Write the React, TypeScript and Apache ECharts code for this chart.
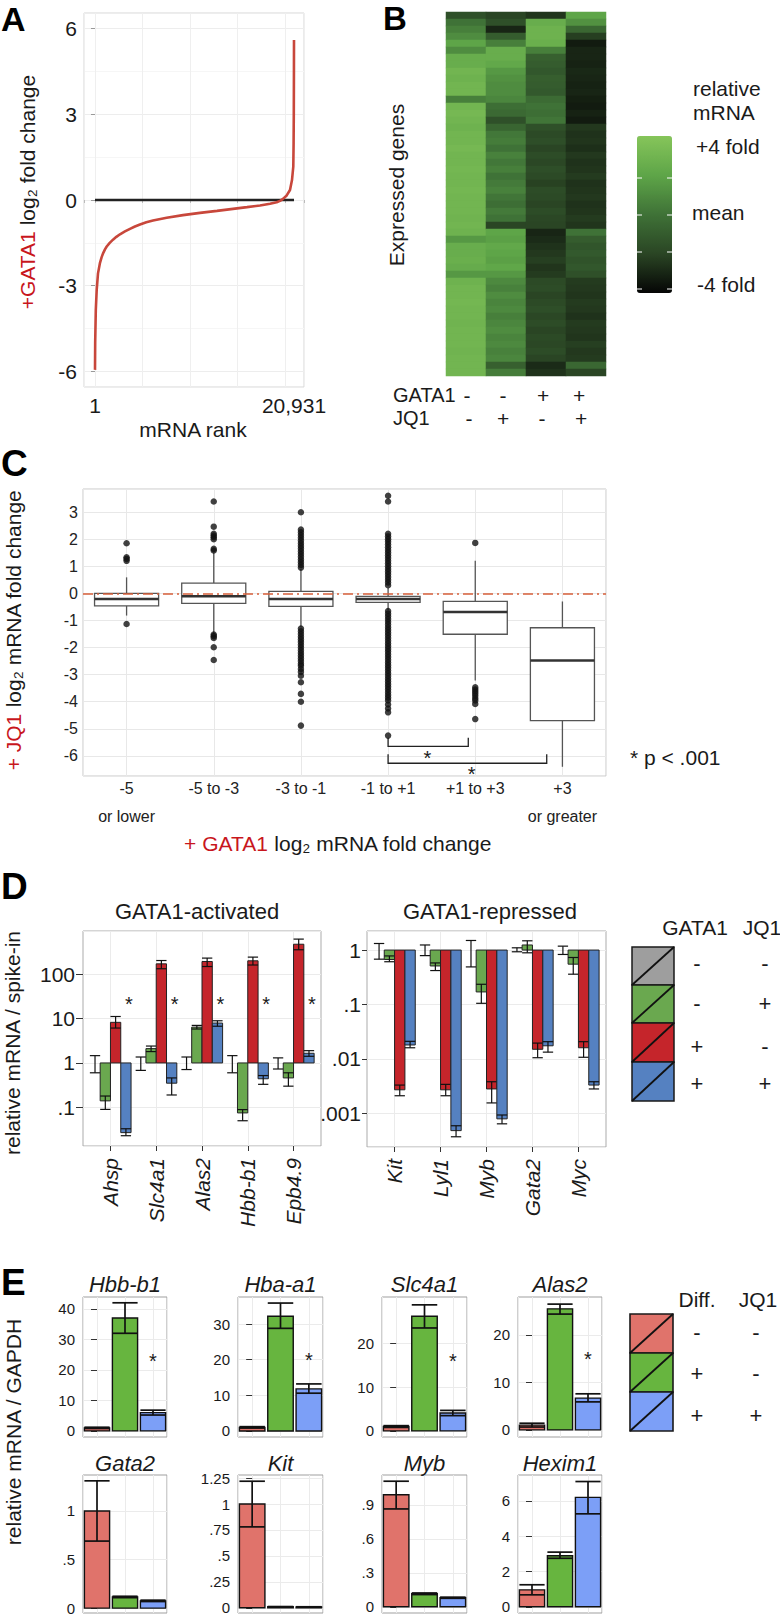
import React, { useEffect, useRef } from 'react';
import * as echarts from 'echarts';

const FONT = '"Liberation Sans", Arial, Helvetica, sans-serif';
const INK = '#1a1a1a';
const RED_TEXT = '#c8161d';

/* ---------------- Panel A ---------------- */
const aRank = [1, 20, 85, 180, 317, 527, 700, 874, 1050, 1232, 1550, 1894, 2250, 2630, 3150, 3682, 4200, 4734, 5400, 6101, 7542, 9256, 11044, 12832, 14515, 15987, 17354, 18406, 19111, 19458, 19774, 20163, 20510, 20720, 20857, 20890, 20910, 20925, 20931];
const aFold = [-5.95, -5.0, -3.85, -3.15, -2.57, -2.2, -2.0, -1.85, -1.73, -1.63, -1.5, -1.39, -1.29, -1.2, -1.1, -1.01, -0.93, -0.86, -0.78, -0.72, -0.62, -0.53, -0.45, -0.38, -0.31, -0.25, -0.19, -0.13, -0.08, -0.03, 0.04, 0.16, 0.35, 0.7, 1.17, 2.0, 3.0, 4.6, 5.6];
const aRankLabels = [1, 20931];

/* ---------------- Panel B ---------------- */
const bGata1Signs = ['-', '-', '+', '+'];
const bJq1Signs = ['-', '+', '-', '+'];
const bCol1 = [-1.5, 0, 0.5, 1, 2, 1, 2.5, 2.5, 3, 2.8, 3, 3, 0.5, 3, 3.2, 3, 2.8, 3, 3, 3.2, 3, 3, 3.1, 3, 3, 3.1, 3, 3, 3, 2.9, 3, 2.8, 1.5, 2.5, 2.5, 2.6, 2.4, 1.5, 2.8, 3, 3, 3.1, 3, 3, 2.9, 3, 3, 3, 2.9, 3, 3, 3];
const bCol2 = [-2, -1.5, -3, -1, 0.5, 2.5, 2.5, 2.2, 1.5, 1.2, 1, 1, 0.8, -0.2, -0.4, -1.5, -0.6, 0.2, 0.4, 0, 0.6, 0.2, 0.5, 0, 0.3, 0.6, 0.1, -0.2, 0.3, 0, -2, 2, 1.8, 2.2, 2, 1.8, 2.1, 1.5, 0.9, 0.6, 1, 0.7, 0.9, 0.5, 0.8, 1, 0.7, 0.9, 0.6, 0.8, -0.8, 0.4];
const bCol3 = [-2.5, 2.5, 2.8, 2.8, 2.6, 0.5, -0.8, -1, -1.2, -0.9, -1, -1.1, -0.3, 0, -0.2, 0.1, -1.5, -1.8, -1.6, -2, -1.7, -1.9, -1.6, -1.8, -2.1, -1.7, -1.8, -2, -1.7, -1.9, -2, -3, -2.8, -2.6, -2.4, -2.2, -2.5, -2.3, -1.8, -1.7, -2, -1.8, -1.6, -1.9, -1.7, -2, -1.8, -1.9, -1.7, -2, -2.8, -2.6];
const bCol4 = [2, 1.2, -0.5, -2.2, -3.3, -3, -3, -3.1, -2.9, -3, -3.1, -3, -3.2, -3.3, -3.1, -3.3, -2.4, -2.6, -2.5, -2.7, -2.4, -2.6, -2.5, -2.3, -2.6, -2.5, -2.4, -2.6, -2.5, -2.3, -2.5, 0, -1, -1.3, -1.1, -1.4, -1.2, -1.5, -2.3, -2.4, -2.5, -2.3, -2.4, -2.6, -2.3, -2.4, -2.5, -2.2, -2.4, -2.3, -0.5, -2];

/* ---------------- Panel C ---------------- */
const cCats = ['-5\n\nor lower', '-5 to -3', '-3 to -1', '-1 to +1', '+1 to +3', '+3\n\nor greater'];
const cLow = [-0.82, -1.5, -1.25, -0.62, -3.22, -6.4];
const cQ1 = [-0.46, -0.37, -0.48, -0.33, -1.51, -4.7];
const cMed = [-0.21, -0.11, -0.21, -0.21, -0.69, -2.48];
const cQ3 = [0.0, 0.38, 0.07, -0.11, -0.3, -1.27];
const cHigh = [0.59, 1.51, 0.9, 0.2, 1.2, -0.3];
const cOut0 = [1.85, 1.33, 1.27, 1.2, -1.13];
const cOut1 = [3.39, 2.46, 2.2, 2.13, 2.07, 2.0, 1.64, 1.58, -1.52, -1.58, -1.65, -1.99, -2.46];
const cOut2 = [2.99, 2.35, 2.25, 2.15, 2.05, 1.95, 1.85, 1.75, 1.65, 1.55, 1.45, 1.35, 1.25, 1.15, 1.05, 0.95, -1.3, -1.4, -1.5, -1.6, -1.7, -1.8, -1.9, -2.0, -2.1, -2.2, -2.3, -2.4, -2.5, -2.6, -2.67, -2.79, -2.9, -3.04, -3.28, -3.71, -4.0, -4.88];
const cOut3 = [3.6, 3.39, 2.2, 2.1, 2.0, 1.9, 1.8, 1.7, 1.6, 1.5, 1.4, 1.3, 1.2, 1.1, 1.0, 0.9, 0.8, 0.7, 0.6, 0.5, 0.4, 0.3, -0.65, -0.75, -0.85, -0.95, -1.05, -1.15, -1.25, -1.35, -1.45, -1.55, -1.65, -1.75, -1.85, -1.95, -2.05, -2.15, -2.25, -2.35, -2.45, -2.55, -2.65, -2.75, -2.85, -2.95, -3.05, -3.15, -3.25, -3.35, -3.45, -3.55, -3.65, -3.75, -3.85, -3.95, -4.1, -4.25, -4.39, -5.25];
const cOut4 = [1.86, -3.47, -3.55, -3.62, -3.7, -3.78, -3.87, -3.95, -4.08, -4.64];
const cOutliers = [cOut0, cOut1, cOut2, cOut3, cOut4, []];
const cBracketFrom = [3, 3];
const cBracketTo = [3.92, 4.82];
const cBracketLevel = [-5.65, -6.27];
const cBracketTip = [-5.33, -5.94];
const cStarX = [3.45, 3.96];
const cStarY = [-5.9, -6.5];

/* ---------------- Panel D ---------------- */
const dActGenes = ['Ahsp', 'Slc4a1', 'Alas2', 'Hbb-b1', 'Epb4.9'];
// [mean, low, high] per gene
const dActGray = [[1, 0.6, 1.46], [1, 0.68, 1.36], [1, 0.71, 1.36], [1, 0.6, 1.46], [1, 0.73, 1.3]];
const dActGreen = [[0.14, 0.09, 0.18], [2.1, 1.8, 2.4], [6.4, 5.8, 7.0], [0.075, 0.05, 0.089], [0.46, 0.3, 0.6]];
const dActRed = [[8.2, 6.1, 11.1], [170, 132, 202], [192, 148, 229], [199, 160, 241], [470, 353, 613]];
const dActBlue = [[0.027, 0.023, 0.033], [0.35, 0.19, 0.46], [7.9, 6.7, 8.9], [0.44, 0.33, 0.52], [1.65, 1.41, 1.89]];
const dActStar = [26.5, 26.5, 26.5, 26.5, 26.5];
const dRepGenes = ['Kit', 'Lyl1', 'Myb', 'Gata2', 'Myc'];
const dRepGray = [[1, 0.68, 1.32], [1, 0.79, 1.24], [1, 0.49, 1.5], [1, 0.93, 1.1], [1, 0.83, 1.18]];
const dRepGreen = [[0.67, 0.61, 0.78], [0.51, 0.42, 0.58], [0.17, 0.105, 0.235], [1.24, 0.89, 1.48], [0.55, 0.36, 0.73]];
const dRepRed = [[0.0027, 0.0021, 0.0033], [0.0027, 0.0021, 0.0034], [0.0028, 0.00155, 0.0038], [0.015, 0.0105, 0.0195], [0.016, 0.0107, 0.0207]];
const dRepBlue = [[0.018, 0.016, 0.021], [0.00048, 0.00037, 0.00059], [0.00079, 0.00064, 0.00093], [0.0174, 0.0133, 0.0207], [0.0033, 0.0028, 0.0038]];
const dLegendGata1 = ['-', '-', '+', '+'];
const dLegendJq1 = ['-', '+', '-', '+'];

/* ---------------- Panel E ---------------- */
const eGenes = ['Hbb-b1', 'Hba-a1', 'Slc4a1', 'Alas2', 'Gata2', 'Kit', 'Myb', 'Hexim1'];
const eUndiff = [[1, 0.8, 1.2], [1, 0.8, 1.2], [1, 0.8, 1.2], [1, 0.6, 1.4], [1, 0.69, 1.31], [1, 0.78, 1.22], [0.99, 0.865, 1.11], [0.96, 0.68, 1.25]];
const eDiff = [[37, 32, 42], [32.2, 28.8, 35.9], [26.3, 23.6, 28.9], [25.5, 24.4, 26.5], [0.115, 0.108, 0.122], [0.01, 0.008, 0.012], [0.115, 0.108, 0.122], [2.89, 2.75, 3.1]];
const eDiffJQ1 = [[6, 5.2, 6.8], [11.8, 10.6, 13.2], [4.1, 3.5, 4.7], [6.7, 5.9, 7.6], [0.075, 0.068, 0.082], [0.008, 0.006, 0.01], [0.08, 0.075, 0.085], [6.2, 5.27, 7.1]];
const eMin = [-2.0, -1.7, -1.4, -1.5, -0.05, -0.05, -0.055, -0.35];
const eMax = [43.9, 37.6, 30.7, 28, 1.37, 1.28, 1.165, 7.47];
const eTicks = [[0, 10, 20, 30, 40], [0, 10, 20, 30], [0, 10, 20], [0, 10, 20], [0, 0.5, 1], [0, 0.25, 0.5, 0.75, 1, 1.25], [0, 0.3, 0.6, 0.9], [0, 2, 4, 6]];
const eStar = [24.3, 21.3, 17, 15.8, null, null, null, null];
const eLegendDiff = ['-', '+', '+'];
const eLegendJq1 = ['-', '-', '+'];

/* ---------------- styles ---------------- */
const D_COLORS = ['#9e9e9e', '#6aa84f', '#c5252b', '#5581c1'];
const E_COLORS = ['#e0736b', '#67b53f', '#7c9ff7'];
const HEAT_COLORS = ['#050505', '#2a4524', '#3f7237', '#5ea548', '#86c55a'];

function T(x: number, y: number, text: string, o: any = {}) {
  const size = o.size || 21;
  return {
    type: 'text',
    x,
    y,
    rotation: o.rot || 0,
    silent: true,
    z: 100,
    style: {
      text,
      fill: o.color || INK,
      fontSize: size,
      fontFamily: FONT,
      fontWeight: o.weight || 'normal',
      fontStyle: o.italic ? 'italic' : 'normal',
      textAlign: o.align || 'left',
      align: o.align || 'left',
      textVerticalAlign: 'middle',
      verticalAlign: 'middle',
      rich: o.rich,
    },
  };
}

function redRich(size: number) {
  return {
    r: { fill: RED_TEXT, color: RED_TEXT, fontSize: size, fontFamily: FONT },
    k: { fill: INK, color: INK, fontSize: size, fontFamily: FONT },
  };
}

const decFmt = (v: number) => {
  if (Number.isInteger(v)) return String(v);
  return String(+v.toFixed(3)).replace(/^0\./, '.');
};
const logFmt = (v: number) => {
  if (v >= 1) return String(Math.round(v));
  return String(parseFloat(v.toPrecision(2))).replace(/^0\./, '.');
};

function buildOption() {
  const grid: any[] = [];
  const xAxis: any[] = [];
  const yAxis: any[] = [];
  const series: any[] = [];
  const graphic: any[] = [];

  const box = (left: number, top: number, width: number, height: number, border: string) => ({
    left, top, width, height, show: true, borderColor: border, borderWidth: 1,
    backgroundColor: '#ffffff', containLabel: false, outerBoundsMode: 'none',
  });

  /* ===== A ===== */
  grid.push(box(84, 13, 220, 374, '#d6d6d6'));
  xAxis.push({
    type: 'value', gridIndex: 0, min: -1156, max: 21983,
    axisLine: { show: false },
    axisTick: { show: true, length: 3, lineStyle: { color: '#bbbbbb' } },
    axisLabel: {
      customValues: aRankLabels,
      formatter: (v: number) => (v === 20931 ? '20,931' : String(v)),
      fontSize: 21, color: INK, margin: 8, fontFamily: FONT,
    },
    splitLine: { show: true, lineStyle: { color: '#efefef' } },
  });
  yAxis.push({
    type: 'value', gridIndex: 0, min: -6.55, max: 6.55,
    axisLine: { show: false },
    axisTick: { show: true, length: 4, lineStyle: { color: '#999999' } },
    axisLabel: { fontSize: 21, color: INK, margin: 7, showMinLabel: false, showMaxLabel: false, fontFamily: FONT },
    splitLine: { show: true, lineStyle: { color: '#ededed' } },
    minorTick: { show: false, splitNumber: 2 },
    minorSplitLine: { show: true, lineStyle: { color: '#f6f6f6' } },
  });
  series.push({
    type: 'line', xAxisIndex: 0, yAxisIndex: 0, data: [[aRank[0], 0], [aRank[aRank.length - 1], 0]],
    symbol: 'none', lineStyle: { color: '#222222', width: 2.6 }, silent: true, z: 2,
  });
  series.push({
    type: 'line', xAxisIndex: 0, yAxisIndex: 0, data: aRank.map((r, i) => [r, aFold[i]]),
    symbol: 'none', lineStyle: { color: '#c8473b', width: 2.6 }, silent: true, z: 3,
  });

  /* ===== B ===== */
  grid.push({ left: 446, top: 12, width: 160, height: 364, show: false, containLabel: false, outerBoundsMode: 'none' });
  xAxis.push({ type: 'category', gridIndex: 1, data: ['1', '2', '3', '4'], show: false });
  yAxis.push({ type: 'category', gridIndex: 1, data: bCol1.map((_, i) => String(i)), inverse: true, show: false });
  const heatData: any[] = [];
  [bCol1, bCol2, bCol3, bCol4].forEach((col, c) => col.forEach((v, r) => heatData.push([c, r, v])));
  const heatIndex = series.length;
  series.push({
    type: 'heatmap', xAxisIndex: 1, yAxisIndex: 1, data: heatData, silent: true,
    itemStyle: { borderWidth: 0 }, emphasis: { disabled: true },
  });

  /* ===== C ===== */
  grid.push(box(83, 489, 523, 287, '#c9c9c9'));
  xAxis.push({
    type: 'value', gridIndex: 2, min: -0.5, max: 5.5,
    axisLine: { show: false }, axisTick: { show: false },
    axisLabel: {
      formatter: (v: number) => (Number.isInteger(v) && v >= 0 && v < cCats.length ? cCats[v] : ''),
      fontSize: 16, lineHeight: 14, color: '#222222', margin: 5, showMinLabel: false, showMaxLabel: false, fontFamily: FONT,
    },
    splitLine: { show: true, lineStyle: { color: '#e8e8e8' } },
  });
  yAxis.push({
    type: 'value', gridIndex: 2, min: -6.74, max: 3.85, splitNumber: 10,
    axisLine: { show: false }, axisTick: { show: false },
    axisLabel: { fontSize: 16, color: '#222222', margin: 5, showMinLabel: false, showMaxLabel: false, fontFamily: FONT },
    splitLine: { show: true, lineStyle: { color: '#e8e8e8' } },
  });
  series.push({
    type: 'custom', xAxisIndex: 2, yAxisIndex: 2, silent: true,
    encode: { x: 0, y: [1, 5] },
    data: cLow.map((_, i) => [i, cLow[i], cQ1[i], cMed[i], cQ3[i], cHigh[i]]),
    renderItem: (params: any, api: any) => {
      const x = api.value(0);
      const lo = api.coord([x, api.value(1)]);
      const q1 = api.coord([x, api.value(2)]);
      const md = api.coord([x, api.value(3)]);
      const q3 = api.coord([x, api.value(4)]);
      const hi = api.coord([x, api.value(5)]);
      const w = api.size([0.735, 0])[0];
      const cx = lo[0];
      const st = { stroke: '#555555', lineWidth: 1.3, fill: null };
      return {
        type: 'group',
        children: [
          { type: 'line', shape: { x1: cx, y1: hi[1], x2: cx, y2: q3[1] }, style: st },
          { type: 'line', shape: { x1: cx, y1: q1[1], x2: cx, y2: lo[1] }, style: st },
          { type: 'rect', shape: { x: cx - w / 2, y: q3[1], width: w, height: q1[1] - q3[1] }, style: { fill: '#ffffff', stroke: '#555555', lineWidth: 1.3 } },
          { type: 'line', shape: { x1: cx - w / 2, y1: md[1], x2: cx + w / 2, y2: md[1] }, style: { stroke: '#333333', lineWidth: 2.6 } },
        ],
      };
    },
  });
  const outData: any[] = [];
  cOutliers.forEach((arr, i) => arr.forEach((v) => outData.push([i, v])));
  series.push({
    type: 'scatter', xAxisIndex: 2, yAxisIndex: 2, data: outData, symbolSize: 6.5, silent: true,
    itemStyle: { color: '#111111' },
    markLine: {
      silent: true, symbol: 'none', label: { show: false },
      lineStyle: { color: '#d65f3a', type: [10, 4, 2, 4], width: 1.6 },
      data: [{ yAxis: 0 }],
    },
  });
  series.push({
    type: 'custom', xAxisIndex: 2, yAxisIndex: 2, silent: true,
    encode: { x: 0, y: 2 },
    data: cBracketFrom.map((f, i) => [f, cBracketTo[i], cBracketLevel[i], cBracketTip[i], cStarX[i], cStarY[i]]),
    renderItem: (params: any, api: any) => {
      const a = api.coord([api.value(0), api.value(2)]);
      const b = api.coord([api.value(1), api.value(2)]);
      const tip = api.coord([api.value(0), api.value(3)])[1];
      const s = api.coord([api.value(4), api.value(5)]);
      const st = { stroke: '#222222', lineWidth: 1.3, fill: null };
      return {
        type: 'group',
        children: [
          { type: 'polyline', shape: { points: [[a[0], tip], [a[0], a[1]], [b[0], b[1]], [b[0], tip]] }, style: st },
          { type: 'text', x: s[0], y: s[1] + 4.5, style: { text: '*', fill: INK, fontSize: 20, fontFamily: FONT, align: 'center', verticalAlign: 'middle', textAlign: 'center', textVerticalAlign: 'middle' } },
        ],
      };
    },
  });

  /* ===== D ===== */
  const dRender = (params: any, api: any) => {
    const gx = api.value(0);
    const k = api.value(1);
    const b = api.coord([gx, 1]);
    const unit = api.coord([gx + 1, 1])[0] - b[0];
    const bw = unit * 0.225;
    const cx = b[0] + (k - 1.5) * bw;
    const ym = api.coord([gx, api.value(2)])[1];
    const yl = api.coord([gx, api.value(3)])[1];
    const yh = api.coord([gx, api.value(4)])[1];
    const children: any[] = [];
    if (Math.abs(ym - b[1]) > 0.5) {
      children.push({
        type: 'rect',
        shape: { x: cx - bw / 2, y: Math.min(ym, b[1]), width: bw, height: Math.abs(ym - b[1]) },
        style: { fill: D_COLORS[k], stroke: '#222222', lineWidth: 1 },
      });
    }
    const es = { stroke: '#111111', lineWidth: 1.2, fill: null };
    children.push({ type: 'line', shape: { x1: cx, y1: yl, x2: cx, y2: yh }, style: es });
    children.push({ type: 'line', shape: { x1: cx - bw / 2, y1: yl, x2: cx + bw / 2, y2: yl }, style: es });
    children.push({ type: 'line', shape: { x1: cx - bw / 2, y1: yh, x2: cx + bw / 2, y2: yh }, style: es });
    return { type: 'group', children };
  };
  const starRender = (dx: number, fontSize: number) => (params: any, api: any) => {
    const p = api.coord([api.value(0) + dx, api.value(1)]);
    return {
      type: 'text', x: p[0], y: p[1] + fontSize * 0.225,
      style: { text: '*', fill: INK, fontSize, fontFamily: FONT, align: 'center', verticalAlign: 'middle', textAlign: 'center', textVerticalAlign: 'middle' },
    };
  };
  const dPanels = [
    { genes: dActGenes, sets: [dActGray, dActGreen, dActRed, dActBlue], min: 0.0135, max: 933, grid: [83, 931, 238, 215], tick: 7, margin: 8 },
    { genes: dRepGenes, sets: [dRepGray, dRepGreen, dRepRed, dRepBlue], min: 0.00024, max: 2.24, grid: [367, 931, 239, 216], tick: 5, margin: 6 },
  ];
  dPanels.forEach((pn, j) => {
    const gi = grid.length;
    grid.push(box(pn.grid[0], pn.grid[1], pn.grid[2], pn.grid[3], '#ababab'));
    xAxis.push({
      type: 'value', gridIndex: gi, min: 0.4, max: 5.6,
      axisLine: { show: false },
      axisTick: { show: true, length: 5, customValues: [1, 2, 3, 4, 5], lineStyle: { color: '#333333' } },
      axisLabel: {
        customValues: [1, 2, 3, 4, 5],
        formatter: (v: number) => pn.genes[Math.round(v) - 1] || '',
        rotate: 90, fontStyle: 'italic', fontSize: 21, color: INK, margin: 12, fontFamily: FONT,
      },
      splitLine: { show: true, lineStyle: { color: '#ebebeb' } },
    });
    yAxis.push({
      type: 'log', logBase: 10, gridIndex: gi, min: pn.min, max: pn.max,
      axisLine: { show: false },
      axisTick: { show: true, length: pn.tick, lineStyle: { color: '#333333' } },
      axisLabel: { formatter: logFmt, fontSize: 21, color: INK, margin: pn.margin, showMinLabel: false, showMaxLabel: false, fontFamily: FONT },
      splitLine: { show: true, lineStyle: { color: '#ebebeb' } },
    });
    const data: any[] = [];
    pn.genes.forEach((_, i) => pn.sets.forEach((set, k) => data.push([i + 1, k, set[i][0], set[i][1], set[i][2]])));
    series.push({ type: 'custom', xAxisIndex: gi, yAxisIndex: gi, silent: true, encode: { x: 0, y: 2 }, data, renderItem: dRender });
    if (j === 0) {
      series.push({
        type: 'custom', xAxisIndex: gi, yAxisIndex: gi, silent: true, encode: { x: 0, y: 1 },
        data: dActStar.map((v, i) => [i + 1, v]), renderItem: starRender(0.4, 20),
      });
    }
  });

  /* ===== E ===== */
  const eLeft = [83, 238, 382, 518];
  const eWidth = [84, 85, 85, 84];
  const eTop = [1297, 1475];
  const eHeight = [140, 138];
  const eRender = (params: any, api: any) => {
    const ci = api.value(0);
    const base = api.coord([ci, 0]);
    const unit = api.coord([ci + 1, 0])[0] - base[0];
    const bw = unit * 0.9;
    const top = api.coord([ci, api.value(1)])[1];
    const yl = api.coord([ci, api.value(2)])[1];
    const yh = api.coord([ci, api.value(3)])[1];
    const x0 = base[0] - bw / 2;
    const es = { stroke: '#111111', lineWidth: 1.7, fill: null };
    return {
      type: 'group',
      children: [
        { type: 'rect', shape: { x: x0, y: top, width: bw, height: base[1] - top }, style: { fill: E_COLORS[ci], stroke: '#111111', lineWidth: 1.4 } },
        { type: 'line', shape: { x1: base[0], y1: yl, x2: base[0], y2: yh }, style: es },
        { type: 'line', shape: { x1: x0, y1: yl, x2: x0 + bw, y2: yl }, style: es },
        { type: 'line', shape: { x1: x0, y1: yh, x2: x0 + bw, y2: yh }, style: es },
      ],
    };
  };
  eGenes.forEach((g, p) => {
    const gi = grid.length;
    const row = p < 4 ? 0 : 1;
    const col = p % 4;
    grid.push(box(eLeft[col], eTop[row], eWidth[col], eHeight[row], '#9f9f9f'));
    xAxis.push({
      type: 'value', gridIndex: gi, min: -0.5, max: 2.5, splitNumber: 3,
      axisLine: { show: false }, axisTick: { show: false }, axisLabel: { show: false },
      splitLine: { show: true, lineStyle: { color: '#ebebeb' } },
    });
    yAxis.push({
      type: 'value', gridIndex: gi, min: eMin[p], max: eMax[p],
      axisLine: { show: false },
      axisTick: { show: true, length: 6, customValues: eTicks[p], lineStyle: { color: '#333333' } },
      axisLabel: { customValues: eTicks[p], formatter: decFmt, fontSize: 15, color: INK, margin: 8, fontFamily: FONT },
      splitLine: { show: true, lineStyle: { color: '#ebebeb' } },
    });
    const sets = [eUndiff[p], eDiff[p], eDiffJQ1[p]];
    series.push({
      type: 'custom', xAxisIndex: gi, yAxisIndex: gi, silent: true, encode: { x: 0, y: 1 },
      data: sets.map((s, ci) => [ci, s[0], s[1], s[2]]), renderItem: eRender,
    });
    if (eStar[p] !== null) {
      series.push({
        type: 'custom', xAxisIndex: gi, yAxisIndex: gi, silent: true, encode: { x: 0, y: 1 },
        data: [[2, eStar[p]]], renderItem: starRender(0, 20),
      });
    }
    graphic.push(T(eLeft[col] + eWidth[col] / 2, row === 0 ? 1284 : 1463, g, { align: 'center', italic: true, size: 22 }));
  });

  /* ===== texts & legends ===== */
  graphic.push(T(1, 19, 'A', { size: 34, weight: 'bold', color: '#000' }));
  graphic.push(T(383, 18, 'B', { size: 33, weight: 'bold', color: '#000' }));
  graphic.push(T(1, 463, 'C', { size: 37, weight: 'bold', color: '#000' }));
  graphic.push(T(1, 886, 'D', { size: 37, weight: 'bold', color: '#000' }));
  graphic.push(T(1, 1282, 'E', { size: 37, weight: 'bold', color: '#000' }));

  // A
  graphic.push(T(27, 192, '{r|+GATA1}{k| log₂ fold change}', { align: 'center', rot: Math.PI / 2, rich: redRich(21) }));
  graphic.push(T(193, 429, 'mRNA rank', { align: 'center', size: 21 }));

  // B
  graphic.push(T(396, 185, 'Expressed genes', { align: 'center', rot: Math.PI / 2 }));
  graphic.push(T(693, 88, 'relative'));
  graphic.push(T(693, 112, 'mRNA'));
  graphic.push(T(696, 146, '+4 fold'));
  graphic.push(T(692, 212, 'mean'));
  graphic.push(T(697, 284, '-4 fold'));
  // white tick marks on the colour bar edges
  const barTickY = [178, 215, 252, 289];
  barTickY.forEach((y) => {
    graphic.push({ type: 'line', shape: { x1: 637, y1: y, x2: 642, y2: y }, style: { stroke: '#ffffff', lineWidth: 1 }, silent: true, z: 95 });
    graphic.push({ type: 'line', shape: { x1: 667, y1: y, x2: 672, y2: y }, style: { stroke: '#ffffff', lineWidth: 1 }, silent: true, z: 95 });
  });
  graphic.push(T(393, 395, 'GATA1', { size: 20 }));
  graphic.push(T(393, 418, 'JQ1', { size: 20 }));
  const bSignX1 = [467, 503, 543, 579];
  const bSignX2 = [469, 503, 542, 581];
  bGata1Signs.forEach((s, i) => graphic.push(T(bSignX1[i], 395, s, { align: 'center' })));
  bJq1Signs.forEach((s, i) => graphic.push(T(bSignX2[i], 418, s, { align: 'center' })));

  // C
  graphic.push(T(13, 630, '{r|+ JQ1}{k| log₂ mRNA fold change}', { align: 'center', rot: Math.PI / 2, rich: redRich(21) }));
  graphic.push(T(338, 843, '{r|+ GATA1}{k| log₂ mRNA fold change}', { align: 'center', rich: redRich(21) }));
  graphic.push(T(630, 757, '* p < .001', { size: 21 }));

  // D
  graphic.push(T(197, 911, 'GATA1-activated', { align: 'center', size: 22 }));
  graphic.push(T(490, 911, 'GATA1-repressed', { align: 'center', size: 22 }));
  graphic.push(T(12, 1043, 'relative mRNA / spike-in', { align: 'center', rot: Math.PI / 2, size: 21 }));
  graphic.push(T(695, 927, 'GATA1', { align: 'center', size: 21 }));
  graphic.push(T(762, 927, 'JQ1', { align: 'center', size: 21 }));
  const dLegTop = [947, 985, 1023, 1062];
  const dLegH = [38, 38, 39, 39];
  const dLegSignY = [963, 1003, 1046, 1083];
  D_COLORS.forEach((c, i) => {
    graphic.push({ type: 'rect', shape: { x: 632, y: dLegTop[i], width: 42, height: dLegH[i] }, style: { fill: c, stroke: '#1a1a1a', lineWidth: 1.5 }, silent: true, z: 90 });
    graphic.push({ type: 'line', shape: { x1: 632, y1: dLegTop[i] + dLegH[i], x2: 674, y2: dLegTop[i] }, style: { stroke: '#111111', lineWidth: 1.8 }, silent: true, z: 91 });
    graphic.push(T(697, dLegSignY[i], dLegendGata1[i], { align: 'center', size: 22 }));
    graphic.push(T(765, dLegSignY[i], dLegendJq1[i], { align: 'center', size: 22 }));
  });

  // E
  graphic.push(T(13, 1432, 'relative mRNA / GAPDH', { align: 'center', rot: Math.PI / 2, size: 21 }));
  graphic.push(T(697, 1299, 'Diff.', { align: 'center', size: 21 }));
  graphic.push(T(758, 1299, 'JQ1', { align: 'center', size: 21 }));
  const eLegTop = [1314, 1353, 1392];
  const eLegSignY = [1332, 1373, 1415];
  E_COLORS.forEach((c, i) => {
    graphic.push({ type: 'rect', shape: { x: 630, y: eLegTop[i], width: 43, height: 39 }, style: { fill: c, stroke: '#1a1a1a', lineWidth: 1.6 }, silent: true, z: 90 });
    graphic.push({ type: 'line', shape: { x1: 630, y1: eLegTop[i] + 39, x2: 673, y2: eLegTop[i] }, style: { stroke: '#111111', lineWidth: 1.8 }, silent: true, z: 91 });
    graphic.push(T(697, eLegSignY[i], eLegendDiff[i], { align: 'center', size: 22 }));
    graphic.push(T(756, eLegSignY[i], eLegendJq1[i], { align: 'center', size: 22 }));
  });

  return {
    animation: false,
    backgroundColor: '#ffffff',
    textStyle: { fontFamily: FONT },
    grid,
    xAxis,
    yAxis,
    visualMap: [{
      type: 'continuous', seriesIndex: heatIndex, min: -4, max: 4,
      left: 637, top: 136, itemWidth: 35, itemHeight: 157, padding: 0,
      calculable: false, hoverLink: false, orient: 'vertical',
      inRange: { color: HEAT_COLORS },
    }],
    series,
    graphic: { elements: graphic },
  };
}

export default function App() {
  const ref = useRef<HTMLDivElement>(null);
  useEffect(() => {
    if (!ref.current) return;
    const chart = echarts.init(ref.current, null, { renderer: 'svg', width: 780, height: 1616 });
    chart.setOption(buildOption() as any);
    return () => chart.dispose();
  }, []);
  return (
    <div
      ref={ref}
      style={{ position: 'absolute', left: 0, top: 0, width: 780, height: 1616, background: '#ffffff' }}
    />
  );
}
